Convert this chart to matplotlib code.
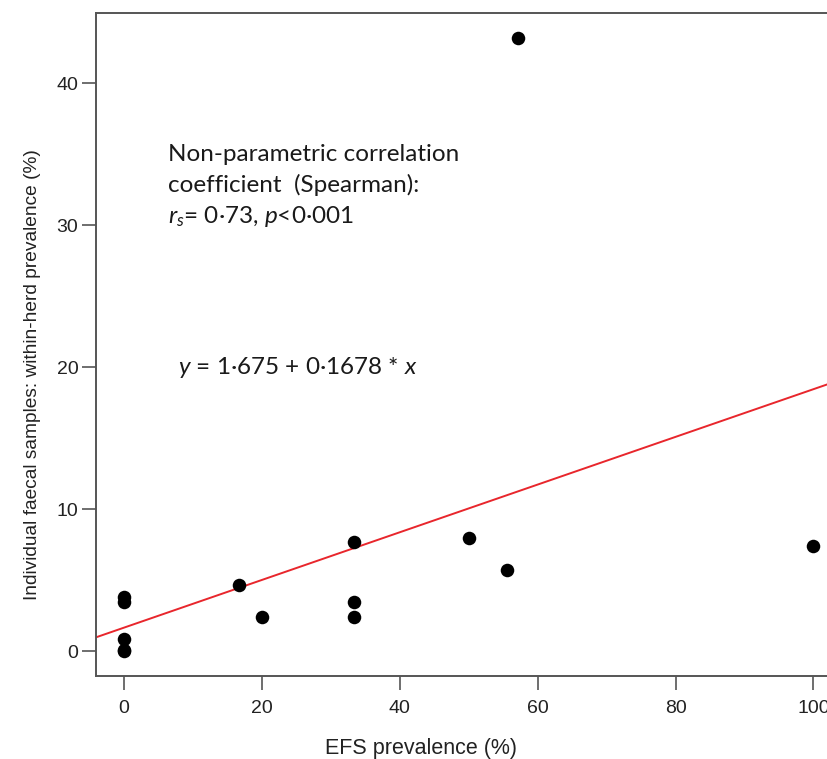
import numpy as np
import matplotlib.pyplot as plt

plt.rcParams['mathtext.fontset'] = 'custom'
plt.rcParams['mathtext.rm'] = 'Lato'
plt.rcParams['mathtext.it'] = 'Lato:italic'

# EFS prevalence (%) vs within-herd prevalence from faecal samples (%)
efs_prev = [0, 0, 0, 0, 0, 16.7, 20, 33.3, 33.3, 33.3, 50, 55.6, 57.1, 100]
faecal_prev = [0, 0.1, 0.85, 3.5, 3.8, 4.65, 2.4, 7.7, 3.45, 2.45, 8.0, 5.75, 43.2, 7.45]

intercept = 1.675
slope = 0.1678

x_ticks = [0, 20, 40, 60, 80, 100]
y_ticks = [0, 10, 20, 30, 40]

fig = plt.figure(figsize=(8.28, 7.59), dpi=100)
# axes run a little past the right edge, as in the cropped original
ax = fig.add_axes([96.5 / 828, 1 - 676 / 759, (841 - 96.5) / 828, (676 - 13) / 759])

ax.scatter(efs_prev, faecal_prev, s=95, color='black', zorder=3, linewidths=0)

xs = np.array([-10, 120])
ax.plot(xs, intercept + slope * xs, color='#e8262c', lw=1.4, zorder=2)

ax.set_xlim(-4, 104)
ax.set_ylim(-1.73, 44.93)

ax.set_xticks(x_ticks)
ax.set_yticks(y_ticks)
for side in ['left', 'bottom', 'top', 'right']:
    ax.spines[side].set_color('#555555')
    ax.spines[side].set_linewidth(1.4)
ax.tick_params(axis='both', colors='#555555', width=1.2, length=10,
               labelsize=14, labelcolor='#222222')
ax.tick_params(axis='x', pad=7)
ax.tick_params(axis='y', pad=3)
for lab in ax.get_xticklabels() + ax.get_yticklabels():
    lab.set_family('Liberation Sans')

ax.set_xlabel('EFS prevalence (%)', fontsize=15.5, family='Liberation Sans',
              color='#222222', labelpad=14)
ax.set_ylabel('Individual faecal samples: within-herd prevalence (%)', fontsize=13.8,
              family='Liberation Sans', color='#222222', labelpad=11)
ax.xaxis.set_label_coords(0.436, -0.093)
ax.yaxis.label.set_y(0.455)

txt_kw = dict(transform=ax.transData, fontsize=17.5, family='Lato', color='#1a1a1a',
              va='baseline', ha='left')
ax.text(6.4, 34.5, 'Non-parametric correlation', **txt_kw)
ax.text(6.4, 32.3, 'coefficient  (Spearman):', **txt_kw)
ax.text(6.4, 30.15, r'$r_s$= 0·73, $p$<0·001', **txt_kw)
ax.text(7.8, 19.5, r'$y$ = 1·675 + 0·1678 * $x$', **txt_kw)

fig.savefig('out.png', dpi=100)
